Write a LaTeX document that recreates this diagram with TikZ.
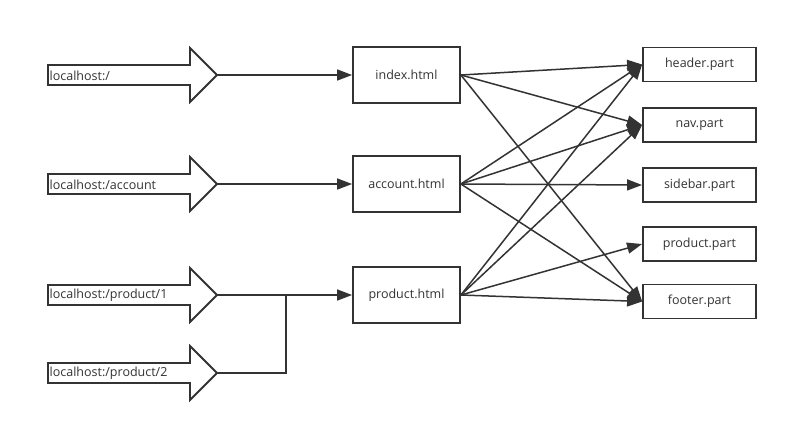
\documentclass[tikz,border=0pt]{standalone}
\usepackage{fontspec}
\setmainfont{Open Sans}
\usetikzlibrary{arrows.meta}
\definecolor{ink}{HTML}{333333}
\tikzset{
  lbl/.style={font=\fontsize{12.5}{14}\selectfont, text=ink},
  box/.style={lbl, draw=ink, line width=1.8pt, fill=white, minimum width=107pt, minimum height=56pt, inner sep=0pt},
  part/.style={lbl, draw=ink, line width=1.8pt, fill=white, minimum width=113pt, minimum height=34pt, inner sep=0pt},
  urlbody/.style={draw=ink, line width=1.8pt, fill=white, line join=miter},
  urltext/.style={lbl, anchor=west, inner sep=0pt},
  conn/.style={draw=ink, line width=1.5pt, -{Triangle[length=15pt,width=11pt]}},
  plain/.style={draw=ink, line width=1.5pt}
}
\newcommand\urlarrow[3]{%
  \draw[urlbody] (48,#1-10) -- (190,#1-10) -- (190,#1-27) -- (217,#1) -- (190,#1+27) -- (190,#1+10) -- (48,#1+10) -- cycle;
  \node[urltext] (#2t) at (49.5,#1+0.5) {#3};
  \coordinate (#2) at (217,#1);
}
\begin{document}
\begin{tikzpicture}[x=1pt,y=-1pt]
\useasboundingbox (0,0) rectangle (788,432);
\fill[white] (0,0) rectangle (788,432);

\urlarrow{75}{u1}{localhost:/}
\urlarrow{184}{u2}{localhost:/account}
\urlarrow{295}{u3}{localhost:/product/1}
\urlarrow{373}{u4}{localhost:/product/2}

\node[box] (index) at (406.5,75) {index.html};
\node[box] (account) at (406.5,184) {account.html};
\node[box] (product) at (406.5,295) {product.html};

\node[part] (header) at (699.5,64.5) {header.part};
\node[part] (nav) at (699.5,125) {nav.part};
\node[part] (sidebar) at (699.5,185) {sidebar.part};
\node[part] (prodpart) at (699.5,244) {product.part};
\node[part] (footer) at (699.5,301.5) {footer.part};

\coordinate (join) at (286,295);
\draw[conn] (u1) -- (index.west);
\draw[conn] (u2) -- (account.west);
\draw[conn] (u3) -- (product.west);
\draw[plain] (u4) -| (join);

\draw[conn] (index.east) -- (header.west);
\draw[conn] (index.east) -- (nav.west);
\draw[conn] (index.east) -- (footer.west);
\draw[conn] (account.east) -- (header.west);
\draw[conn] (account.east) -- (nav.west);
\draw[conn] (account.east) -- (sidebar.west);
\draw[conn] (account.east) -- (footer.west);
\draw[conn] (product.east) -- (header.west);
\draw[conn] (product.east) -- (nav.west);
\draw[conn] (product.east) -- (prodpart.west);
\draw[conn] (product.east) -- (footer.west);
\end{tikzpicture}
\end{document}
